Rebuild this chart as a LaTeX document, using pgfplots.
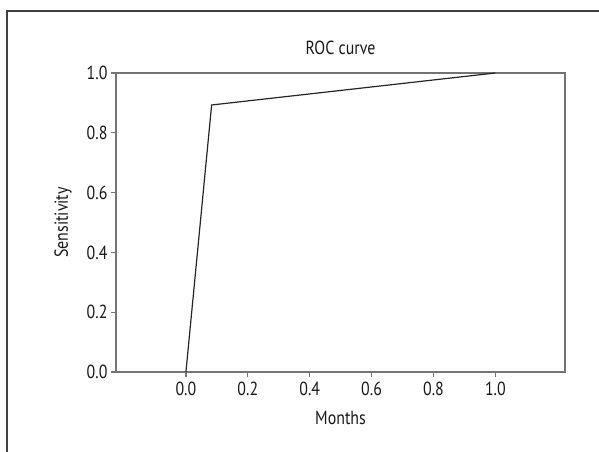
\documentclass[border=0pt]{standalone}
\usepackage{pgfplots}
\pgfplotsset{compat=1.18}
\usepackage{fontspec}
\setmainfont[FakeStretch=0.84]{PT Sans}
\begin{document}
\begin{tikzpicture}[x=1bp,y=1bp]
\useasboundingbox (0,0) rectangle (599,452);
\fill[white] (0,0) rectangle (599,452);
\draw[color=black!75, line width=1.2bp] (7,0) -- (7,441) -- (599,441);
\begin{axis}[
  at={(116bp,80bp)}, anchor=south west,
  scale only axis, width=449bp, height=299bp,
  xmin=-0.226, xmax=1.225, ymin=0, ymax=1,
  xtick={0,0.2,0.4,0.6,0.8,1.0},
  ytick={0,0.2,0.4,0.6,0.8,1.0},
  xticklabel style={/pgf/number format/fixed,/pgf/number format/fixed zerofill,/pgf/number format/precision=1},
  yticklabel style={/pgf/number format/fixed,/pgf/number format/fixed zerofill,/pgf/number format/precision=1},
  /pgf/number format/assume math mode=true,
  tick label style={font=\fontsize{19}{20}\selectfont, text=black!90},
  label style={font=\fontsize{19}{20}\selectfont, text=black!90},
  title style={font=\fontsize{19}{20}\selectfont, text=black!90},
  tick align=outside, tick pos=left,
  major tick length=5bp,
  every tick/.style={color=black!55, line width=1.2bp},
  axis line style={color=black!55, line width=1.5bp},
  xlabel={Months}, ylabel={Sensitivity},
  title={ROC curve},
  title style={at={(0.5,1)}, anchor=center, yshift=19bp},
  xlabel style={at={(0.5,0)}, anchor=center, yshift=-46bp},
  ylabel style={at={(0,0.5)}, anchor=center, yshift=53bp},
  xticklabel style={yshift=-2bp},
  clip=false,
]
\addplot[color=black!85, line width=1.2bp] coordinates {(0,0) (0.083,0.893) (1.0,1.0)};
\end{axis}
\end{tikzpicture}
\end{document}
